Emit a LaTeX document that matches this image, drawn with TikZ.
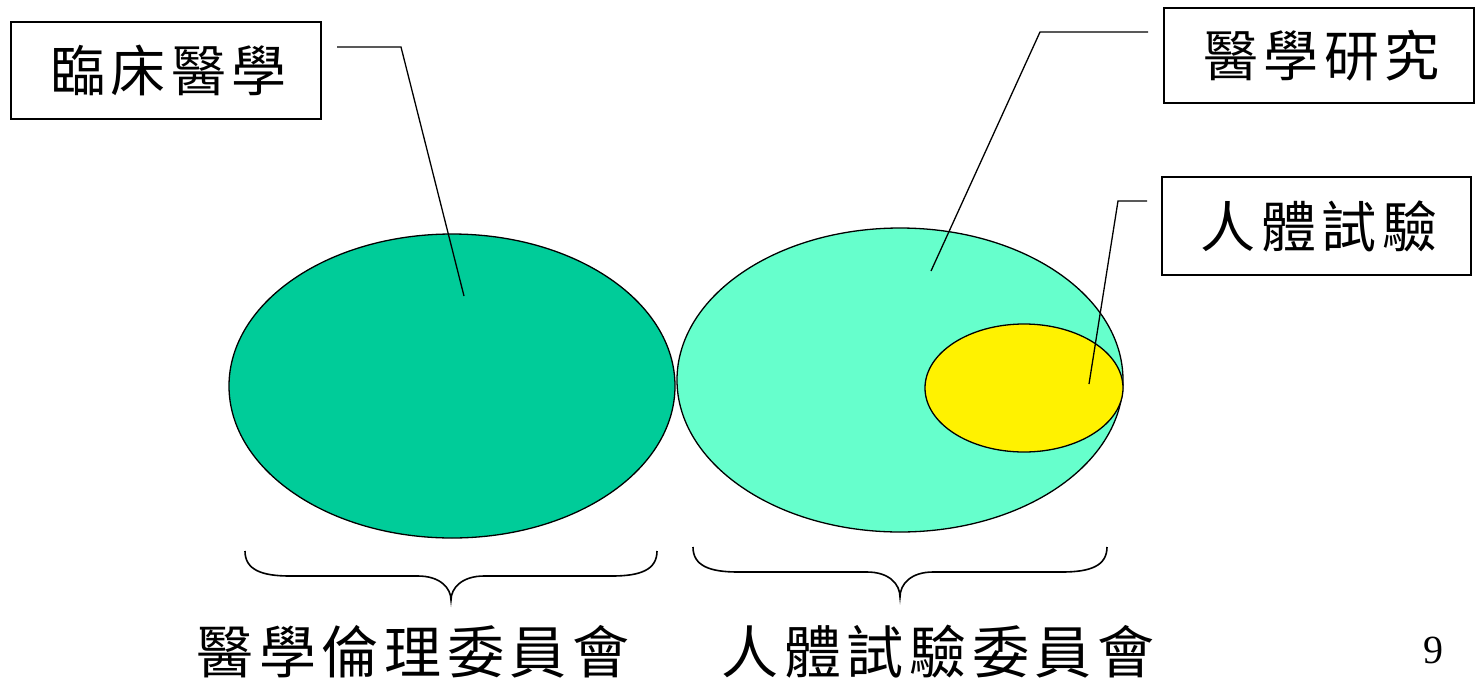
\documentclass[tikz,border=0pt]{standalone}
\usepackage{fontspec}
\setmainfont{Liberation Serif}
\newfontfamily\cjkwide[LetterSpace=10]{Noto Sans CJK TC}
\usetikzlibrary{shapes.geometric}
\definecolor{darkgreen}{HTML}{00CC99}
\definecolor{lightgreen}{HTML}{66FFCC}
\tikzset{
  blob/.style={ellipse, draw=black, line width=1.3pt, inner sep=0pt},
  labelbox/.style={draw=black, line width=1.3pt, fill=white, inner sep=0pt, font=\cjkwide\fontsize{55}{62}\selectfont},
  leader/.style={line width=1.3pt},
  bracepath/.style={line width=1.6pt},
  bottomlabel/.style={font=\cjkwide\fontsize{57}{64}\selectfont, inner sep=0pt}
}
\begin{document}
\begin{tikzpicture}[x=1pt,y=-1pt]
\useasboundingbox (0,0) rectangle (1476,681);
% ellipses
\node[blob, fill=darkgreen, minimum width=446pt, minimum height=304pt] (left) at (452,386) {};
\node[blob, fill=lightgreen, minimum width=446pt, minimum height=304pt] (right) at (900,380) {};
\node[blob, fill=yellow, minimum width=198pt, minimum height=128pt] (inner) at (1024,388) {};
% boxes
\node[labelbox, minimum width=310pt, minimum height=97pt] (clin) at (166,70.5) {\hspace{5pt}臨床醫學};
\node[labelbox, minimum width=310pt, minimum height=95pt] (res) at (1319,55.5) {\hspace{5pt}醫學研究};
\node[labelbox, minimum width=309pt, minimum height=98pt] (hum) at (1316.5,226) {\hspace{5pt}人體試驗};
% leader lines
\coordinate (l1s) at (337,47);
\coordinate (l1b) at (401,47);
\coordinate (l1e) at (464,296);
\draw[leader] (l1s) -- (l1b) -- (l1e);
\coordinate (l2s) at (1148,32);
\coordinate (l2b) at (1040,32);
\coordinate (l2e) at (931,271);
\draw[leader] (l2s) -- (l2b) -- (l2e);
\coordinate (l3s) at (1147,201);
\coordinate (l3b) at (1118,201);
\coordinate (l3e) at (1089,384);
\draw[leader] (l3s) -- (l3b) -- (l3e);
% braces
\coordinate (b1l) at (245,551);
\coordinate (b1t) at (451,600);
\coordinate (b1r) at (657,551);
\draw[bracepath] (b1l) .. controls (245,570) and (262,576) .. (290,576) -- (418,576)
  .. controls (440,576) and (451,588) .. (b1t)
  .. controls (451,588) and (462,576) .. (484,576) -- (612,576)
  .. controls (640,576) and (657,570) .. (b1r);
\coordinate (b2l) at (693,547);
\coordinate (b2t) at (900,597);
\coordinate (b2r) at (1107,547);
\draw[bracepath] (b2l) .. controls (693,566) and (710,572) .. (738,572) -- (867,572)
  .. controls (889,572) and (900,584) .. (b2t)
  .. controls (900,584) and (911,572) .. (933,572) -- (1062,572)
  .. controls (1090,572) and (1107,566) .. (b2r);
% bottom labels
\node[bottomlabel] (lab1) at (413,652) {醫學倫理委員會};
\node[bottomlabel] (lab2) at (938,652) {人體試驗委員會};
\node[font=\fontsize{40}{48}\selectfont, inner sep=0pt] (page) at (1433,650) {9};
\end{tikzpicture}
\end{document}
